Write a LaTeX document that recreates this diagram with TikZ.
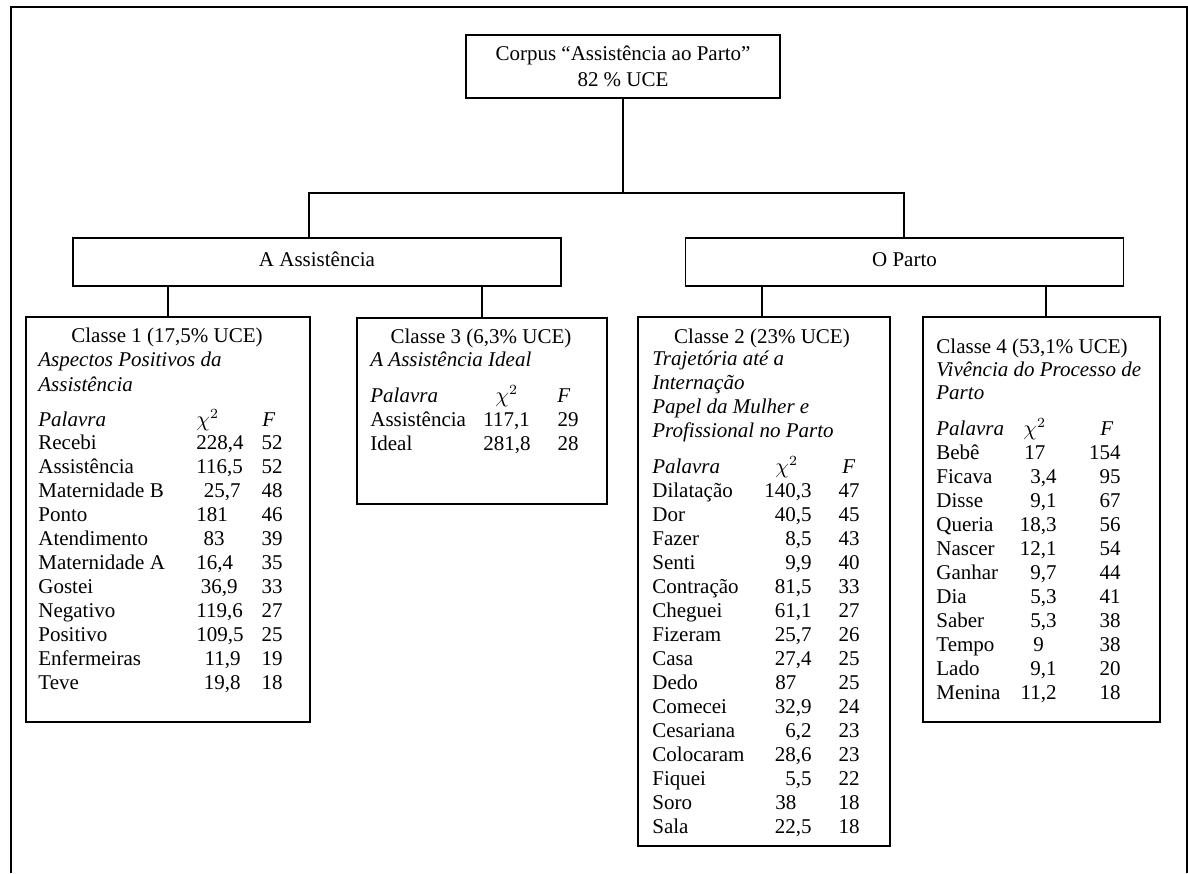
\documentclass[tikz,border=0pt]{standalone}
\usepackage{fontspec}
\setmainfont{Liberation Serif}
\begin{document}
\begin{tikzpicture}[
  x=0.5pt, y=-0.5pt,
  every node/.style={font=\fontsize{10.5}{13.3}\selectfont},
  box/.style={draw, line width=0.9pt, inner sep=0pt},
  link/.style={line width=0.9pt},
  txt/.style={inner sep=0pt, anchor=base west},
  ttl/.style={inner sep=0pt, anchor=base},
  ital/.style={txt, font=\fontsize{10.5}{13.3}\selectfont\itshape},
  num/.style={inner sep=0pt, anchor=base east}
]
\useasboundingbox (0,0) rectangle (1188,873);
\draw[line width=1pt] (11,873) -- (11,7) -- (1187,7) -- (1187,873);

\node[box, minimum width=157pt, minimum height=31.5pt, align=center] (top) at (623,66.5)
  {Corpus “Assistência ao Parto”\\82 \% UCE};
\node[box, minimum width=244pt, minimum height=24pt, text height=6.5pt, text depth=2.5pt] (ass) at (317,262) {A Assistência};
\node[box, minimum width=219pt, minimum height=24pt, text height=6.5pt, text depth=2.5pt] (par) at (904.5,262) {O Parto};

\node[box, minimum width=142pt, minimum height=202.5pt] (c1) at (168,519.5) {};
\node[box, minimum width=125pt, minimum height=93pt] (c3) at (482,411) {};
\node[box, minimum width=126pt, minimum height=264.5pt] (c2) at (764,581.5) {};
\node[box, minimum width=118.5pt, minimum height=202.5pt] (c4) at (1041.5,519.5) {};

\coordinate (jl) at (309,193);
\coordinate (jr) at (904,193);
\draw[link] (top.south) -- (top.south |- jl);
\draw[link] (ass.north -| jl) -- (jl) -- (jr) -- (par.north -| jr);
\draw[link] (c1.north) -- (c1.north |- ass.south);
\draw[link] (c3.north) -- (c3.north |- ass.south);
\draw[link] ([xshift=-1pt]c2.north) -- ([xshift=-1pt]c2.north |- par.south);
\draw[link] ([xshift=2.25pt]c4.north) -- ([xshift=2.25pt]c4.north |- par.south);

% Classe 1
\node[ttl] (c1t) at (167,342) {Classe 1 (17,5\% UCE)};
\node[ital] (c1s1) at (38,366) {Aspectos Positivos da};
\node[ital] (c1s2) at (38,391) {Assistência};
\node[ital] (c1h1) at (38,426) {Palavra};
\node[txt] (c1h2) at (196,426) {$\chi^2$};
\node[ital] (c1h3) at (262,426) {F};
\foreach \wrd/\chv/\frq/\cx/\ca [count=\i from 0] in {
  Recebi/{228,4}/52/196/west, Assistência/{116,5}/52/196/west,
  Maternidade B/{25,7}/48/241/east, Ponto/181/46/196/west,
  Atendimento/83/39/225/east, Maternidade A/{16,4}/35/196/west,
  Gostei/{36,9}/33/238/east, Negativo/{119,6}/27/196/west,
  Positivo/{109,5}/25/196/west, Enfermeiras/{11,9}/19/241/east,
  Teve/{19,8}/18/241/east}
{
  \node[txt] (c1w\i) at (38,449+24*\i) {\wrd};
  \node[inner sep=0pt, anchor=base \ca] (c1c\i) at (\cx,449+24*\i) {\chv};
  \node[num] (c1f\i) at (283,449+24*\i) {\frq};
}

% Classe 3
\node[ttl] (c3t) at (481,343) {Classe 3 (6,3\% UCE)};
\node[ital] (c3s1) at (370,366) {A Assistência Ideal};
\node[ital] (c3h1) at (370,402) {Palavra};
\node[txt] (c3h2) at (495,402) {$\chi^2$};
\node[ital] (c3h3) at (557,402) {F};
\foreach \wrd/\chv/\frq [count=\i from 0] in {
  Assistência/{117,1}/29, Ideal/{281,8}/28}
{
  \node[txt] (c3w\i) at (370,426+24*\i) {\wrd};
  \node[txt] (c3c\i) at (483,426+24*\i) {\chv};
  \node[num] (c3f\i) at (579,426+24*\i) {\frq};
}

% Classe 2
\node[ttl] (c2t) at (762,343) {Classe 2 (23\% UCE)};
\node[ital] (c2s1) at (652,365) {Trajetória até a};
\node[ital] (c2s2) at (652,389) {Internação};
\node[ital] (c2s3) at (652,413) {Papel da Mulher e};
\node[ital] (c2s4) at (652,437) {Profissional no Parto};
\node[ital] (c2h1) at (652,473) {Palavra};
\node[txt] (c2h2) at (775,473) {$\chi^2$};
\node[ital] (c2h3) at (842,473) {F};
\foreach \wrd/\chv/\frq/\cx/\ca [count=\i from 0] in {
  Dilatação/{140,3}/47/812/east, Dor/{40,5}/45/812/east,
  Fazer/{8,5}/43/812/east, Senti/{9,9}/40/812/east,
  Contração/{81,5}/33/812/east, Cheguei/{61,1}/27/812/east,
  Fizeram/{25,7}/26/812/east, Casa/{27,4}/25/812/east,
  Dedo/87/25/775/west, Comecei/{32,9}/24/812/east,
  Cesariana/{6,2}/23/812/east, Colocaram/{28,6}/23/812/east,
  Fiquei/{5,5}/22/812/east, Soro/38/18/775/west,
  Sala/{22,5}/18/812/east}
{
  \node[txt] (c2w\i) at (652,497+24*\i) {\wrd};
  \node[inner sep=0pt, anchor=base \ca] (c2c\i) at (\cx,497+24*\i) {\chv};
  \node[num] (c2f\i) at (860,497+24*\i) {\frq};
}

% Classe 4
\node[txt] (c4t) at (936,353) {Classe 4 (53,1\% UCE)};
\node[ital] (c4s1) at (936,376) {Vivência do Processo de};
\node[ital] (c4s2) at (936,399) {Parto};
\node[ital] (c4h1) at (936,435) {Palavra};
\node[txt] (c4h2) at (1023,435) {$\chi^2$};
\node[ital] (c4h3) at (1100,435) {F};
\foreach \wrd/\chv/\frq/\cx/\ca [count=\i from 0] in {
  Bebê/17/154/1024/west, Ficava/{3,4}/95/1057/east,
  Disse/{9,1}/67/1057/east, Queria/{18,3}/56/1057/east,
  Nascer/{12,1}/54/1057/east, Ganhar/{9,7}/44/1057/east,
  Dia/{5,3}/41/1057/east, Saber/{5,3}/38/1057/east,
  Tempo/9/38/1033/west, Lado/{9,1}/20/1057/east,
  Menina/{11,2}/18/1057/east}
{
  \node[txt] (c4w\i) at (936,459+24*\i) {\wrd};
  \node[inner sep=0pt, anchor=base \ca] (c4c\i) at (\cx,459+24*\i) {\chv};
  \node[num] (c4f\i) at (1121,459+24*\i) {\frq};
}
\end{tikzpicture}
\end{document}
